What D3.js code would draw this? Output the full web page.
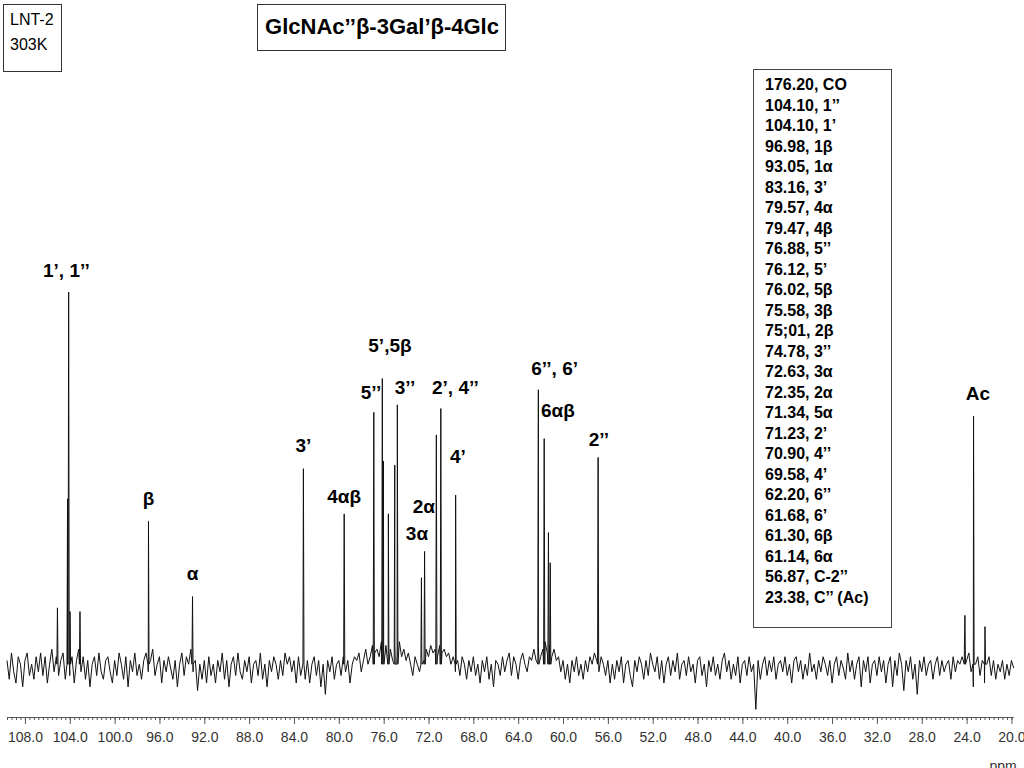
<!DOCTYPE html>
<html>
<head>
<meta charset="utf-8">
<script src="https://cdn.jsdelivr.net/npm/d3@7"></script>
<style>
  body { margin: 0; background: #fff; }
  text { font-family: Arial, "Liberation Sans", sans-serif; }
</style>
</head>
<body>
<div id="my_dataviz"></div>
<script>
// peaks (ppm, relative intensity, tallest = 100)
var peakPpm = [105.10, 104.20, 104.10, 103.98, 103.09, 96.98, 93.05, 83.16, 79.52,
               76.88, 76.12, 76.02, 75.58, 75.01, 74.78, 72.63, 72.35, 71.30, 70.90,
               69.58, 62.20, 61.68, 61.30, 61.14, 56.87, 24.15, 23.38, 22.36];
var peakHeight = [16, 45, 100, 15, 15, 39, 19, 53, 41,
                  68, 77, 55, 41, 54, 70, 24, 31, 62, 69,
                  46, 74, 61, 36, 28, 56, 14, 67, 11];

// baseline noise, one value every 0.2 ppm starting at 109.6 ppm
var noiseStart = 109.6, noiseStep = 0.2;
var noise = [
  2,-3,4,-1,-4,3,1,-5,2,4,-2,1,-3,3,-1,
  4,-2,3,-4,1,5,-1,3,-2,2,4,-3,1,-2,3,
  -4,2,5,-1,3,-3,2,-5,1,3,-2,4,-1,-3,2,
  3,-1,-4,2,-2,4,1,-3,3,-5,2,-1,4,-2,1,
  -3,2,4,-1,2,5,-2,1,3,-4,2,-1,3,0,-3,
  2,-5,1,4,-2,3,1,5,-1,2,-6,1,-3,2,-4,
  3,-2,1,-4,2,-1,4,-3,2,-5,1,3,-2,4,-1,
  -3,2,-1,3,-4,1,2,-2,4,-3,1,-5,2,-1,3,
  1,-3,2,-2,4,1,3,-1,2,-4,3,-2,1,-3,2,
  -4,1,3,-2,2,-5,1,-7,2,-1,3,-3,1,2,-2,
  3,-1,2,-4,1,3,2,4,-1,2,5,1,3,6,4,
  5,3,7,4,6,3,5,2,6,4,7,3,5,2,4,
  1,-2,3,1,-1,4,2,5,3,6,4,5,3,6,4,
  5,3,4,1,3,-1,2,-2,3,1,-3,2,-1,3,-2,
  1,-4,2,-1,3,-3,1,-5,2,1,-2,3,-1,2,4,
  -2,3,1,-3,2,4,1,-1,3,2,5,2,6,3,5,
  7,4,6,3,5,2,3,-1,2,-3,1,-4,2,-1,3,
  -2,1,-3,2,-1,3,1,4,2,-1,3,1,-2,2,-4,
  1,-3,2,-1,3,-4,1,2,-2,-5,2,-1,3,1,-3,
  2,-2,4,1,-1,3,-3,2,-4,1,3,-2,2,-1,4,
  -3,1,2,-2,3,-1,1,-4,2,3,-2,1,-5,2,-1,
  3,-2,1,-3,2,4,-1,2,-3,1,-2,3,-4,1,2,
  -2,3,-1,1,-11,2,-3,1,3,-2,2,-1,3,-3,1,
  2,-1,3,-2,1,-4,2,3,-1,2,-3,1,-2,4,-1,
  1,-3,2,-1,3,1,-2,2,-4,1,3,-2,2,0,-3,
  4,-1,2,-3,1,3,-5,2,-1,3,-4,1,2,-2,3,
  -1,2,-4,1,3,-5,2,-2,4,1,-6,2,-1,3,-3,
  1,-7,2,-1,3,-2,1,2,-3,1,3,-2,2,-1,1,
  2,-3,3,-1,2,1,3,5,2,4,-1,-5,1,3,-2,
  2,-4,1,3,-2,2,-3,1,-1,2,-3,1,-2,2,0
];

// peak labels: text, ppm under label, intensity level of label
var labelText = ["1’, 1’’", "β", "α", "3’", "4αβ", "5’’", "5’,5β", "3’’", "2’, 4’’",
                 "4’", "2α", "3α", "6’’, 6’", "6αβ", "2’’", "Ac"];
var labelPpm = [104.3, 96.98, 93.05, 83.16, 79.52, 77.13, 75.44, 74.1, 69.6,
                69.37, 72.41, 73.03, 60.75, 60.45, 56.8, 22.99];
var labelLevel = [105.3, 44.7, 24.7, 58.8, 45.2, 72.9, 85.4, 74.2, 74.2,
                  55.9, 42.6, 35.4, 79.3, 68.1, 60.4, 72.6];

// assignment table
var assignments = ["176.20, CO", "104.10, 1’’", "104.10, 1’", "96.98, 1β", "93.05, 1α",
  "83.16, 3’", "79.57, 4α", "79.47, 4β", "76.88, 5’’", "76.12, 5’", "76.02, 5β",
  "75.58, 3β", "75;01, 2β", "74.78, 3’’", "72.63, 3α", "72.35, 2α", "71.34, 5α",
  "71.23, 2’", "70.90, 4’’", "69.58, 4’", "62.20, 6’’", "61.68, 6’", "61.30, 6β",
  "61.14, 6α", "56.87, C-2’’", "23.38, C’’ (Ac)"];

var majorTicks = [108, 104, 100, 96, 92, 88, 84, 80, 76, 72, 68, 64, 60, 56, 52, 48, 44, 40, 36, 32, 28, 24, 20];

var width = 1024, height = 768;

var svg = d3.select("#my_dataviz")
  .append("svg")
    .attr("width", width)
    .attr("height", height);

var x = d3.scaleLinear()
  .domain([109.6, 19.86])
  .range([7, 1013]);

var y = d3.scaleLinear()
  .domain([0, 100])
  .range([668, 292]);

// build the trace: noise points + narrow spikes for each peak
var pts = noise.map(function(v, i) { return {ppm: noiseStart - i * noiseStep, v: v}; });
peakPpm.forEach(function(p, i) {
  pts.push({ppm: p + 0.05, v: 1});
  pts.push({ppm: p, v: peakHeight[i]});
  pts.push({ppm: p - 0.05, v: 1});
});
pts.sort(function(a, b) { return b.ppm - a.ppm; });

svg.append("path")
  .datum(pts)
  .attr("fill", "none")
  .attr("stroke", "#111")
  .attr("stroke-width", 1)
  .attr("d", d3.line()
    .x(function(d) { return x(d.ppm); })
    .y(function(d) { return y(d.v); }));

// x axis: minor ticks every 0.4 ppm and labelled majors
var minorTicks = d3.range(0, 225).map(function(i) { return +(109.6 - i * 0.4).toFixed(1); })
  .filter(function(d) { return d >= 19.9; });

svg.append("g")
  .attr("transform", "translate(0,717)")
  .call(d3.axisBottom(x).tickValues(minorTicks).tickSize(3).tickFormat("").tickSizeOuter(0))
  .call(function(g) { g.selectAll("line,path").attr("stroke", "#555"); });

var xAxis = svg.append("g")
  .attr("transform", "translate(0,717)")
  .call(d3.axisBottom(x).tickValues(majorTicks).tickSize(7).tickFormat(d3.format(".1f")).tickSizeOuter(0));
xAxis.selectAll("line,path").attr("stroke", "#555");
xAxis.selectAll("text")
  .attr("dy", "1.1em")
  .style("font-size", "14px")
  .attr("fill", "#333");

svg.append("text")
  .attr("x", 1003)
  .attr("y", 771)
  .attr("text-anchor", "middle")
  .style("font-size", "14px")
  .attr("fill", "#333")
  .text("ppm");

// peak labels
svg.selectAll("text.peak")
  .data(labelText)
  .enter()
  .append("text")
    .attr("class", "peak")
    .attr("x", function(d, i) { return x(labelPpm[i]); })
    .attr("y", function(d, i) { return y(labelLevel[i]); })
    .attr("text-anchor", "middle")
    .attr("dominant-baseline", "middle")
    .style("font-size", "19px")
    .style("font-weight", "bold")
    .text(function(d) { return d; });

// sample box top left
svg.append("rect")
  .attr("x", 3.5).attr("y", 4.5)
  .attr("width", 58).attr("height", 67)
  .attr("fill", "none").attr("stroke", "#333");
svg.append("text").attr("x", 10).attr("y", 25)
  .style("font-size", "16px").text("LNT-2");
svg.append("text").attr("x", 10).attr("y", 50)
  .style("font-size", "16px").text("303K");

// title box
svg.append("rect")
  .attr("x", 257.5).attr("y", 4.5)
  .attr("width", 248).attr("height", 46)
  .attr("fill", "none").attr("stroke", "#333");
svg.append("text")
  .attr("x", 382).attr("y", 28)
  .attr("text-anchor", "middle")
  .attr("dominant-baseline", "middle")
  .style("font-size", "22px")
  .style("font-weight", "bold")
  .text("GlcNAc’’β-3Gal’β-4Glc");

// assignment box
var legend = svg.append("g");
legend.append("rect")
  .attr("x", 753.5).attr("y", 69.5)
  .attr("width", 138).attr("height", 558)
  .attr("fill", "#fff").attr("stroke", "#444");
legend.selectAll("text")
  .data(assignments)
  .enter()
  .append("text")
    .attr("x", 765)
    .attr("y", function(d, i) { return 86 + i * 20.5; })
    .attr("dominant-baseline", "middle")
    .style("font-size", "16px")
    .style("font-weight", "bold")
    .text(function(d) { return d; });
</script>
</body>
</html>
